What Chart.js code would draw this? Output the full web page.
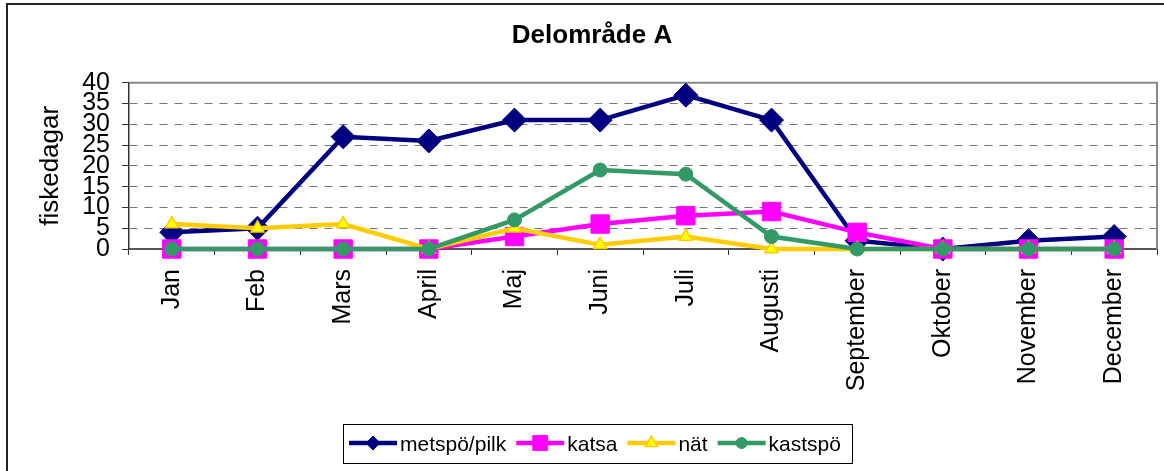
<!DOCTYPE html>
<html>
<head>
<meta charset="utf-8">
<script src="https://cdn.jsdelivr.net/npm/chart.js@4/dist/chart.umd.min.js"></script>
<style>
  body { margin: 0; background: #fff; }
  canvas { display: block; }
</style>
</head>
<body>
<canvas id="myChart" width="1164" height="471"></canvas>
<script>
const months = ["Jan", "Feb", "Mars", "April", "Maj", "Juni", "Juli", "Augusti", "September", "Oktober", "November", "December"];
const metspo = [4, 5, 27, 26, 31, 31, 37, 31, 2, 0, 2, 3];
const katsa = [0, 0, 0, 0, 3, 6, 8, 9, 4, 0, 0, 0];
const nat = [6, 5, 6, 0, 5, 1, 3, 0, 0, 0, 0, 0];
const kastspo = [0, 0, 0, 0, 7, 19, 18, 3, 0, 0, 0, 0];
const yMax = 40;
const yStep = 5;

const FONT = "'Liberation Sans', Arial, sans-serif";

// outer frame + plot area border (top/right are grey in the original)
const framePlugin = {
  id: "frame",
  beforeDraw(chart) {
    const c = chart.ctx;
    c.save();
    c.fillStyle = "#fff";
    c.fillRect(0, 0, chart.width, chart.height);
    c.strokeStyle = "#222";
    c.lineWidth = 2;
    c.beginPath();
    c.moveTo(7, chart.height);
    c.lineTo(7, 4);
    c.lineTo(chart.width, 4);
    c.stroke();
    c.restore();
  },
  beforeDatasetsDraw(chart) {
    const a = chart.chartArea;
    const c = chart.ctx;
    c.save();
    c.strokeStyle = "#888";
    c.lineWidth = 2;
    c.beginPath();
    c.moveTo(a.left, a.top);
    c.lineTo(a.right, a.top);
    c.lineTo(a.right, a.bottom);
    c.stroke();
    c.restore();
  },
};

// legend in a box with line + marker samples
const legendRadius = { rectRot: 7, rect: 10.5, triangle: 7, circle: 5.5 };
const boxLegend = {
  id: "boxLegend",
  afterDraw(chart) {
    const c = chart.ctx;
    c.save();
    c.strokeStyle = "#000";
    c.lineWidth = 1;
    c.strokeRect(343.5, 424.5, 509, 39);
    c.font = "21px " + FONT;
    c.textBaseline = "middle";
    let x = 349;
    const y = 443;
    chart.data.datasets.forEach((ds) => {
      c.strokeStyle = ds.borderColor;
      c.lineWidth = 4.5;
      c.beginPath();
      c.moveTo(x, y);
      c.lineTo(x + 48, y);
      c.stroke();
      c.fillStyle = ds.pointBackgroundColor;
      c.strokeStyle = ds.pointBorderColor;
      c.lineWidth = ds.pointBorderWidth;
      Chart.helpers.drawPoint(c, {
        pointStyle: ds.pointStyle,
        radius: legendRadius[ds.pointStyle],
        borderWidth: ds.pointBorderWidth,
        rotation: 0,
      }, x + 24, y);
      c.fillStyle = "#000";
      c.fillText(ds.label, x + 51, y + 2);
      x += 51 + c.measureText(ds.label).width + 10;
    });
    c.restore();
  },
};

const ctx = document.getElementById("myChart");
const myChart = new Chart(ctx, {
  type: "line",
  data: {
    labels: months,
    datasets: [
      {
        label: "metspö/pilk",
        data: metspo,
        borderColor: "#000080",
        borderWidth: 4.5,
        pointStyle: "rectRot",
        pointRadius: 12,
        pointBackgroundColor: "#000080",
        pointBorderColor: "#000080",
        pointBorderWidth: 1,
        order: 4,
      },
      {
        label: "katsa",
        data: katsa,
        borderColor: "#FF00FF",
        borderWidth: 4.5,
        pointStyle: "rect",
        pointRadius: 13,
        pointBackgroundColor: "#FF00FF",
        pointBorderColor: "#FF00FF",
        pointBorderWidth: 1,
        order: 3,
      },
      {
        label: "nät",
        data: nat,
        borderColor: "#FFCC00",
        borderWidth: 4.5,
        pointStyle: "triangle",
        pointRadius: 7.5,
        pointBackgroundColor: "#FFFF00",
        pointBorderColor: "#FFCC00",
        pointBorderWidth: 1.5,
        order: 2,
      },
      {
        label: "kastspö",
        data: kastspo,
        borderColor: "#339966",
        borderWidth: 4.5,
        pointStyle: "circle",
        pointRadius: 7,
        pointBackgroundColor: "#339966",
        pointBorderColor: "#339966",
        pointBorderWidth: 1,
        order: 1,
      },
    ],
  },
  options: {
    responsive: false,
    animation: false,
    devicePixelRatio: 1,
    layout: { autoPadding: false, padding: { left: 27, right: 7, top: 4, bottom: 0 } },
    elements: { line: { tension: 0 } },
    datasets: { line: { clip: false } },
    plugins: {
      legend: { display: false },
      tooltip: { enabled: false },
      title: {
        display: true,
        text: "Delområde A",
        color: "#000",
        font: { family: FONT, size: 26, weight: "bold" },
        padding: { top: 16, bottom: 31.5 },
      },
    },
    scales: {
      x: {
        offset: true,
        afterFit(scale) {
          scale.height = 222;
          scale.paddingLeft = 0;
          scale.paddingRight = 0;
        },
        grid: {
          drawOnChartArea: false,
          offset: true,
          tickLength: 6,
          tickColor: "#333",
          tickWidth: 1,
        },
        border: { color: "#555", width: 2 },
        ticks: {
          color: "#000",
          font: { family: FONT, size: 25 },
          minRotation: 90,
          maxRotation: 90,
          autoSkip: false,
          padding: 14,
        },
      },
      y: {
        min: 0,
        max: yMax,
        afterFit(scale) { scale.width = 102; },
        grid: {
          color: (c) => (c.tick.value === 0 || c.tick.value === yMax ? "rgba(0,0,0,0)" : "#777"),
          lineWidth: 1,
          tickLength: 7,
          tickColor: "#333",
          tickBorderDash: [],
        },
        border: { color: "#333", width: 1.5, dash: [8, 7] },
        ticks: {
          stepSize: yStep,
          autoSkip: false,
          color: "#000",
          font: { family: FONT, size: 25 },
          padding: 12,
        },
        title: {
          display: true,
          text: "fiskedagar",
          color: "#000",
          font: { family: FONT, size: 26 },
          padding: { top: 8, bottom: 0 },
        },
      },
    },
  },
  plugins: [framePlugin, boxLegend],
});
</script>
</body>
</html>
